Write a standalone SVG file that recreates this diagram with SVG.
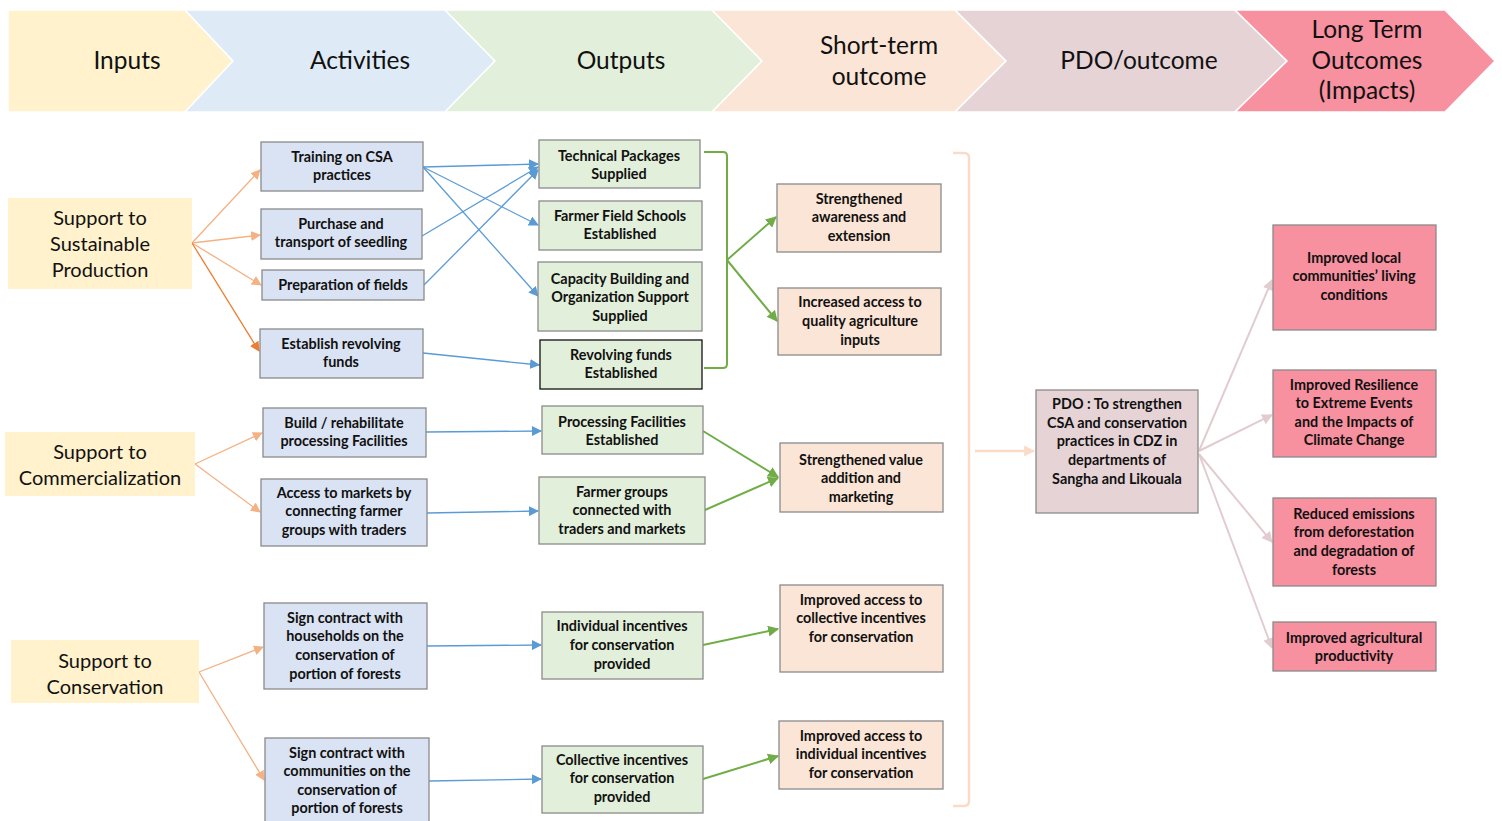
<svg xmlns="http://www.w3.org/2000/svg" width="1502" height="821" viewBox="0 0 1502 821">
<defs>
<style>
.hd{font-family:Lato,"Liberation Sans",sans-serif;font-size:24.5px;fill:#111;text-anchor:middle}
.in{font-family:Lato,"Liberation Sans",sans-serif;font-size:20px;fill:#111;text-anchor:middle}
.bx{font-family:Lato,"Liberation Sans",sans-serif;font-size:14.4px;font-weight:bold;fill:#111;text-anchor:middle}
.act{fill:#DAE3F3;stroke:#8A8A8A;stroke-width:1.3}
.out{fill:#E2EFDA;stroke:#8A8A8A;stroke-width:1.3}
.st{fill:#FBE5D6;stroke:#8A8A8A;stroke-width:1.3}
.pdo{fill:#E6D3D6;stroke:#8A8A8A;stroke-width:1.3}
.lt{fill:#F7909F;stroke:#8A8A8A;stroke-width:1.3}
.inp{fill:#FFF2CC}
.chev{stroke:#fff;stroke-width:1.5}
.co{fill:none;stroke:#F4B183;stroke-width:1.3}
.co2{fill:none;stroke:#ED7D31;stroke-width:1.3}
.cb{fill:none;stroke:#5B9BD5;stroke-width:1.3}
.cg{fill:none;stroke:#70AD47;stroke-width:2}
.cp{fill:none;stroke:#E2CCD0;stroke-width:2}
.cpe{fill:none;stroke:#F9DCC8;stroke-width:2.5}
</style>
<marker id="ao" viewBox="0 0 10 10" refX="9" refY="5" markerWidth="10" markerHeight="10" markerUnits="userSpaceOnUse" orient="auto"><path d="M0,0 L10,5 L0,10 Z" fill="#F4B183"/></marker>
<marker id="ao2" viewBox="0 0 10 10" refX="9" refY="5" markerWidth="10" markerHeight="10" markerUnits="userSpaceOnUse" orient="auto"><path d="M0,0 L10,5 L0,10 Z" fill="#ED7D31"/></marker>
<marker id="ab" viewBox="0 0 10 10" refX="9" refY="5" markerWidth="10" markerHeight="10" markerUnits="userSpaceOnUse" orient="auto"><path d="M0,0 L10,5 L0,10 Z" fill="#5B9BD5"/></marker>
<marker id="ag" viewBox="0 0 10 10" refX="9" refY="5" markerWidth="11" markerHeight="11" markerUnits="userSpaceOnUse" orient="auto"><path d="M0,0 L10,5 L0,10 Z" fill="#70AD47"/></marker>
<marker id="ap" viewBox="0 0 10 10" refX="9" refY="5" markerWidth="11" markerHeight="11" markerUnits="userSpaceOnUse" orient="auto"><path d="M0,0 L10,5 L0,10 Z" fill="#E2CCD0"/></marker>
<marker id="ape" viewBox="0 0 10 10" refX="9" refY="5" markerWidth="11" markerHeight="11" markerUnits="userSpaceOnUse" orient="auto"><path d="M0,0 L10,5 L0,10 Z" fill="#F9DCC8"/></marker>
</defs>
<rect width="1502" height="821" fill="#fff"/>

<g id="header">
<path class="chev" d="M8,10 H185 L233,61 L185,112 H8 Z" fill="#FFF2CC"/>
<path class="chev" d="M185,10 H445 L495,61 L445,112 H185 L233,61 Z" fill="#DEEBF7"/>
<path class="chev" d="M445,10 H712 L762,61 L712,112 H445 L495,61 Z" fill="#E2EFDA"/>
<path class="chev" d="M712,10 H955 L1006,61 L955,112 H712 L762,61 Z" fill="#FBE5D6"/>
<path class="chev" d="M955,10 H1235 L1287,61 L1235,112 H955 L1006,61 Z" fill="#E6D3D6"/>
<path class="chev" d="M1235,10 H1445 L1495,61 L1445,112 H1235 L1287,61 Z" fill="#F7909F"/>
<text class="hd" x="127" y="69">Inputs</text>
<text class="hd" x="360" y="69">Activities</text>
<text class="hd" x="621" y="69">Outputs</text>
<text class="hd" x="879" y="54">Short-term</text>
<text class="hd" x="879" y="85">outcome</text>
<text class="hd" x="1139" y="69">PDO/outcome</text>
<text class="hd" x="1367" y="38">Long Term</text>
<text class="hd" x="1367" y="69">Outcomes</text>
<text class="hd" x="1367" y="99">(Impacts)</text>
</g>

<g id="connectors">
<line class="co" x1="192" y1="243" x2="260" y2="170" marker-end="url(#ao)"/>
<line class="co" x1="192" y1="243" x2="260" y2="235" marker-end="url(#ao)"/>
<line class="co" x1="192" y1="243" x2="261" y2="285" marker-end="url(#ao)"/>
<line class="co2" x1="192" y1="243" x2="259" y2="351" marker-end="url(#ao2)"/>
<line class="co" x1="195" y1="464" x2="262" y2="433" marker-end="url(#ao)"/>
<line class="co" x1="195" y1="464" x2="260" y2="512" marker-end="url(#ao)"/>
<line class="co" x1="199" y1="672" x2="263" y2="647" marker-end="url(#ao)"/>
<line class="co" x1="199" y1="672" x2="264" y2="780" marker-end="url(#ao)"/>

<line class="cb" x1="423" y1="167" x2="538" y2="164" marker-end="url(#ab)"/>
<line class="cb" x1="423" y1="167" x2="538" y2="225" marker-end="url(#ab)"/>
<line class="cb" x1="423" y1="167" x2="538" y2="296" marker-end="url(#ab)"/>
<line class="cb" x1="422" y1="236" x2="538" y2="167" marker-end="url(#ab)"/>
<line class="cb" x1="424" y1="285" x2="538" y2="170" marker-end="url(#ab)"/>
<line class="cb" x1="423" y1="353" x2="539" y2="365" marker-end="url(#ab)"/>
<line class="cb" x1="426" y1="432" x2="541" y2="431" marker-end="url(#ab)"/>
<line class="cb" x1="427" y1="513" x2="538" y2="511" marker-end="url(#ab)"/>
<line class="cb" x1="427" y1="646" x2="541" y2="645" marker-end="url(#ab)"/>
<line class="cb" x1="429" y1="781" x2="541" y2="779" marker-end="url(#ab)"/>

<path class="cg" d="M704,152 H723 Q727,152 727,156 V364 Q727,368 723,368 H704"/>
<line class="cg" x1="727" y1="260" x2="776" y2="217" marker-end="url(#ag)"/>
<line class="cg" x1="727" y1="260" x2="777" y2="321" marker-end="url(#ag)"/>
<line class="cg" x1="703" y1="431" x2="778" y2="477" marker-end="url(#ag)"/>
<line class="cg" x1="705" y1="510" x2="778" y2="478" marker-end="url(#ag)"/>
<line class="cg" x1="703" y1="645" x2="778" y2="629" marker-end="url(#ag)"/>
<line class="cg" x1="703" y1="779" x2="778" y2="756" marker-end="url(#ag)"/>

<path class="cpe" d="M953,153 H964 Q969,153 969,158 V801 Q969,806 964,806 H953"/>
<line class="cpe" x1="975" y1="451" x2="1034" y2="451" marker-end="url(#ape)"/>

<line class="cp" x1="1199" y1="451" x2="1272" y2="280" marker-end="url(#ap)"/>
<line class="cp" x1="1199" y1="451" x2="1272" y2="415" marker-end="url(#ap)"/>
<line class="cp" x1="1199" y1="454" x2="1272" y2="542" marker-end="url(#ap)"/>
<line class="cp" x1="1199" y1="454" x2="1272" y2="648" marker-end="url(#ap)"/>
</g>

<g id="in1"><rect class="inp" x="8" y="198" width="184" height="91"/>
<text class="in" x="100" y="225">Support to</text><text class="in" x="100" y="251">Sustainable</text><text class="in" x="100" y="277">Production</text></g>
<g id="in2"><rect class="inp" x="5" y="432" width="190" height="64"/>
<text class="in" x="100" y="459">Support to</text><text class="in" x="100" y="485">Commercialization</text></g>
<g id="in3"><rect class="inp" x="11" y="640" width="188" height="63"/>
<text class="in" x="105" y="668">Support to</text><text class="in" x="105" y="694">Conservation</text></g>

<g id="a1"><rect class="act" x="261" y="142" width="162" height="49"/>
<text class="bx" x="342" y="162">Training on CSA</text><text class="bx" x="342" y="180">practices</text></g>
<g id="a2"><rect class="act" x="261" y="209" width="161" height="50"/>
<text class="bx" x="341" y="229">Purchase and</text><text class="bx" x="341" y="247">transport of seedling</text></g>
<g id="a3"><rect class="act" x="262" y="270" width="162" height="30"/>
<text class="bx" x="343" y="290">Preparation of fields</text></g>
<g id="a4"><rect class="act" x="260" y="329" width="163" height="49"/>
<text class="bx" x="341" y="349">Establish revolving</text><text class="bx" x="341" y="367">funds</text></g>
<g id="a5"><rect class="act" x="263" y="408" width="163" height="49"/>
<text class="bx" x="344" y="428">Build / rehabilitate</text><text class="bx" x="344" y="446">processing Facilities</text></g>
<g id="a6"><rect class="act" x="261" y="479" width="166" height="67"/>
<text class="bx" x="344" y="498">Access to markets by</text><text class="bx" x="344" y="516">connecting farmer</text><text class="bx" x="344" y="535">groups with traders</text></g>
<g id="a7"><rect class="act" x="264" y="603" width="163" height="86"/>
<text class="bx" x="345" y="623">Sign contract with</text><text class="bx" x="345" y="641">households on the</text><text class="bx" x="345" y="660">conservation of</text><text class="bx" x="345" y="679">portion of forests</text></g>
<g id="a8"><rect class="act" x="265" y="738" width="164" height="86"/>
<text class="bx" x="347" y="758">Sign contract with</text><text class="bx" x="347" y="776">communities on the</text><text class="bx" x="347" y="795">conservation of</text><text class="bx" x="347" y="813">portion of forests</text></g>

<g id="o1"><rect class="out" x="539" y="140" width="161" height="48"/>
<text class="bx" x="619" y="161">Technical Packages</text><text class="bx" x="619" y="179">Supplied</text></g>
<g id="o2"><rect class="out" x="539" y="201" width="163" height="49"/>
<text class="bx" x="620" y="221">Farmer Field Schools</text><text class="bx" x="620" y="239">Established</text></g>
<g id="o3"><rect class="out" x="538" y="262" width="164" height="69"/>
<text class="bx" x="620" y="284">Capacity Building and</text><text class="bx" x="620" y="302">Organization Support</text><text class="bx" x="620" y="321">Supplied</text></g>
<g id="o4"><rect class="out" x="540" y="340" width="162" height="49" style="stroke:#111"/>
<text class="bx" x="621" y="360">Revolving funds</text><text class="bx" x="621" y="378">Established</text></g>
<g id="o5"><rect class="out" x="542" y="406" width="161" height="48"/>
<text class="bx" x="622" y="427">Processing Facilities</text><text class="bx" x="622" y="445">Established</text></g>
<g id="o6"><rect class="out" x="539" y="477" width="166" height="67"/>
<text class="bx" x="622" y="497">Farmer groups</text><text class="bx" x="622" y="515">connected with</text><text class="bx" x="622" y="534">traders and markets</text></g>
<g id="o7"><rect class="out" x="542" y="612" width="161" height="67"/>
<text class="bx" x="622" y="631">Individual incentives</text><text class="bx" x="622" y="650">for conservation</text><text class="bx" x="622" y="669">provided</text></g>
<g id="o8"><rect class="out" x="542" y="746" width="161" height="67"/>
<text class="bx" x="622" y="765">Collective incentives</text><text class="bx" x="622" y="783">for conservation</text><text class="bx" x="622" y="802">provided</text></g>

<g id="s1"><rect class="st" x="777" y="184" width="164" height="68"/>
<text class="bx" x="859" y="204">Strengthened</text><text class="bx" x="859" y="222">awareness and</text><text class="bx" x="859" y="241">extension</text></g>
<g id="s2"><rect class="st" x="778" y="288" width="163" height="67"/>
<text class="bx" x="860" y="307">Increased access to</text><text class="bx" x="860" y="326">quality agriculture</text><text class="bx" x="860" y="345">inputs</text></g>
<g id="s3"><rect class="st" x="780" y="443" width="163" height="69"/>
<text class="bx" x="861" y="465">Strengthened value</text><text class="bx" x="861" y="483">addition and</text><text class="bx" x="861" y="502">marketing</text></g>
<g id="s4"><rect class="st" x="780" y="585" width="163" height="87"/>
<text class="bx" x="861" y="605">Improved access to</text><text class="bx" x="861" y="623">collective incentives</text><text class="bx" x="861" y="642">for conservation</text></g>
<g id="s5"><rect class="st" x="779" y="721" width="164" height="68"/>
<text class="bx" x="861" y="741">Improved access to</text><text class="bx" x="861" y="759">individual incentives</text><text class="bx" x="861" y="778">for conservation</text></g>

<g id="pdo"><rect class="pdo" x="1036" y="390" width="162" height="123"/>
<text class="bx" x="1117" y="409">PDO : To strengthen</text><text class="bx" x="1117" y="428">CSA and conservation</text><text class="bx" x="1117" y="446">practices in CDZ in</text><text class="bx" x="1117" y="465">departments of</text><text class="bx" x="1117" y="484">Sangha and Likouala</text></g>

<g id="l1"><rect class="lt" x="1273" y="225" width="163" height="105"/>
<text class="bx" x="1354" y="263">Improved local</text><text class="bx" x="1354" y="281">communities’ living</text><text class="bx" x="1354" y="300">conditions</text></g>
<g id="l2"><rect class="lt" x="1273" y="370" width="163" height="87"/>
<text class="bx" x="1354" y="390">Improved Resilience</text><text class="bx" x="1354" y="408">to Extreme Events</text><text class="bx" x="1354" y="427">and the Impacts of</text><text class="bx" x="1354" y="445">Climate Change</text></g>
<g id="l3"><rect class="lt" x="1273" y="498" width="163" height="88"/>
<text class="bx" x="1354" y="519">Reduced emissions</text><text class="bx" x="1354" y="537">from deforestation</text><text class="bx" x="1354" y="556">and degradation of</text><text class="bx" x="1354" y="575">forests</text></g>
<g id="l4"><rect class="lt" x="1273" y="622" width="163" height="49"/>
<text class="bx" x="1354" y="643">Improved agricultural</text><text class="bx" x="1354" y="661">productivity</text></g>
</svg>
